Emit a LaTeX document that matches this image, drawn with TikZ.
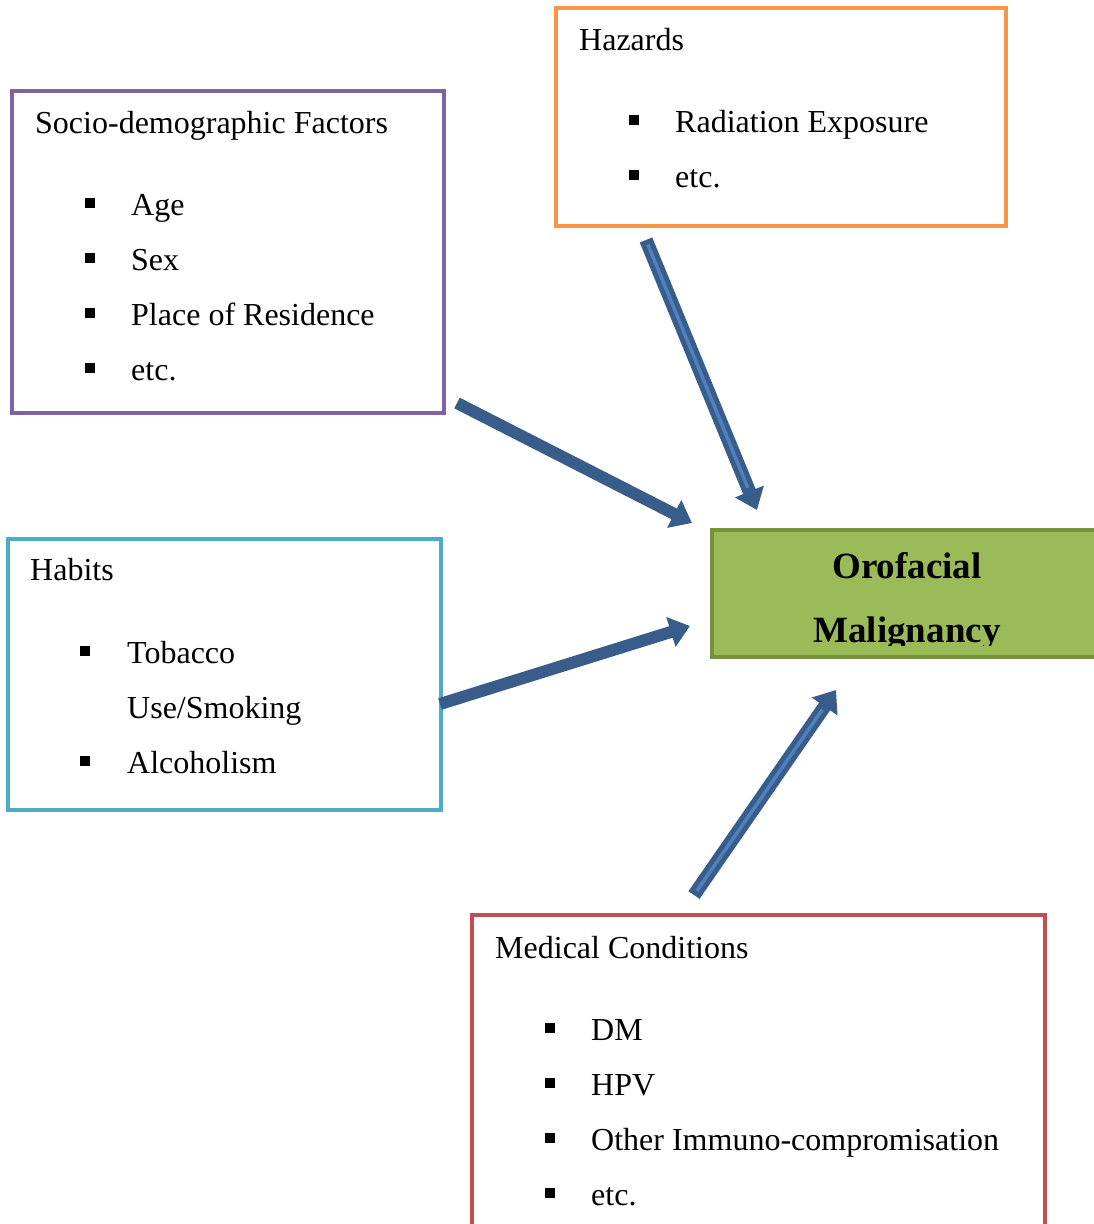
\documentclass[tikz,border=0pt]{standalone}
\usepackage{fontspec}
\setmainfont{Liberation Serif}
\usetikzlibrary{arrows.meta,calc}
\definecolor{purpleB}{HTML}{8064A2}
\definecolor{orangeB}{HTML}{F79646}
\definecolor{tealB}{HTML}{4BACC6}
\definecolor{redB}{HTML}{C0504D}
\definecolor{greenF}{HTML}{9BBB59}
\definecolor{greenB}{HTML}{76923C}
\definecolor{arrD}{HTML}{385D8A}
\definecolor{arrL}{HTML}{4F81BD}
\tikzset{
  box/.style={line width=4pt},
  txt/.style={anchor=base west, inner sep=0pt, font=\fontsize{32}{38}\selectfont},
  bul/.style={fill=black, minimum size=10pt, inner sep=0pt, draw=none},
  arr/.style={draw=arrD, line width=12pt, -{Triangle[length=20pt,width=30pt]}},
  sarr/.style={draw=arrD, line width=13.5pt, -{Triangle[length=20pt,width=30pt]}},
  stripe/.style={draw=arrL, line width=3.5pt},
  big/.style={anchor=base, inner sep=0pt, font=\fontsize{37}{44}\selectfont\bfseries},
}
\begin{document}
\begin{tikzpicture}[x=1pt,y=-1pt]
\useasboundingbox (0,0) rectangle (1094,1224);
\clip (0,0) rectangle (1094,1224);
\fill[white] (0,0) rectangle (1094,1224);

% Socio-demographic box
\draw[box, draw=purpleB] (12,91) rectangle (444,413);
\node[txt] (sdt) at (35,133) {Socio-demographic Factors};
\foreach \y/\t/\n in {215/Age/a,270/Sex/b,325/Place of Residence/c,380/etc./d}{
  \node[bul] (sdb\n) at (90,\y-12) {};
  \node[txt] (sd\n) at (131,\y) {\t};
}

% Hazards box
\draw[box, draw=orangeB] (556,8) rectangle (1006,226);
\node[txt] (hzt) at (579,50) {Hazards};
\foreach \y/\t/\n in {132/Radiation Exposure/a,187/etc./b}{
  \node[bul] (hzb\n) at (634,\y-12) {};
  \node[txt] (hz\n) at (675,\y) {\t};
}

% Habits box
\draw[box, draw=tealB] (8,539) rectangle (441,810);
\node[txt] (hbt) at (30,580) {Habits};
\node[bul] (hbba) at (85,651) {};
\node[txt] (hba) at (127,663) {Tobacco};
\node[txt] (hbb) at (127,718) {Use/Smoking};
\node[bul] (hbbc) at (85,761) {};
\node[txt] (hbc) at (127,773) {Alcoholism};

% Medical box
\draw[box, draw=redB] (472,915) rectangle (1045,1240);
\node[txt] (mct) at (495,958) {Medical Conditions};
\foreach \y/\t/\n in {1040/DM/a,1095/HPV/b,1150/Other Immuno-compromisation/c,1205/etc./d}{
  \node[bul] (mcb\n) at (550,\y-12) {};
  \node[txt] (mc\n) at (591,\y) {\t};
}

% Outcome box
\draw[line width=4.5pt, draw=greenB, fill=greenF] (712,530) rectangle (1110,657);
\begin{scope}
  \clip (714,532) rectangle (1110,645);
  \node[big] (om1) at (907,578) {Orofacial};
  \node[big] (om2) at (907,642) {Malignancy};
\end{scope}

% connector endpoints
\coordinate (s1) at (457,403);
\coordinate (e1) at (692,523);
\coordinate (s2) at (440,704);
\coordinate (e2) at (690,626);
\coordinate (s3) at (646,240);
\coordinate (e3) at (757,510);
\coordinate (s4) at (694,895);
\coordinate (e4) at (836,690);

\draw[arr] (s1) -- (e1);
\draw[arr] (s2) -- (e2);
\draw[sarr] (s3) -- (e3);
\draw[stripe] ($(s3)!5pt!(e3)$) -- ($(e3)!24pt!(s3)$);
\draw[sarr] (s4) -- (e4);
\draw[stripe] ($(s4)!5pt!(e4)$) -- ($(e4)!24pt!(s4)$);
\end{tikzpicture}
\end{document}
